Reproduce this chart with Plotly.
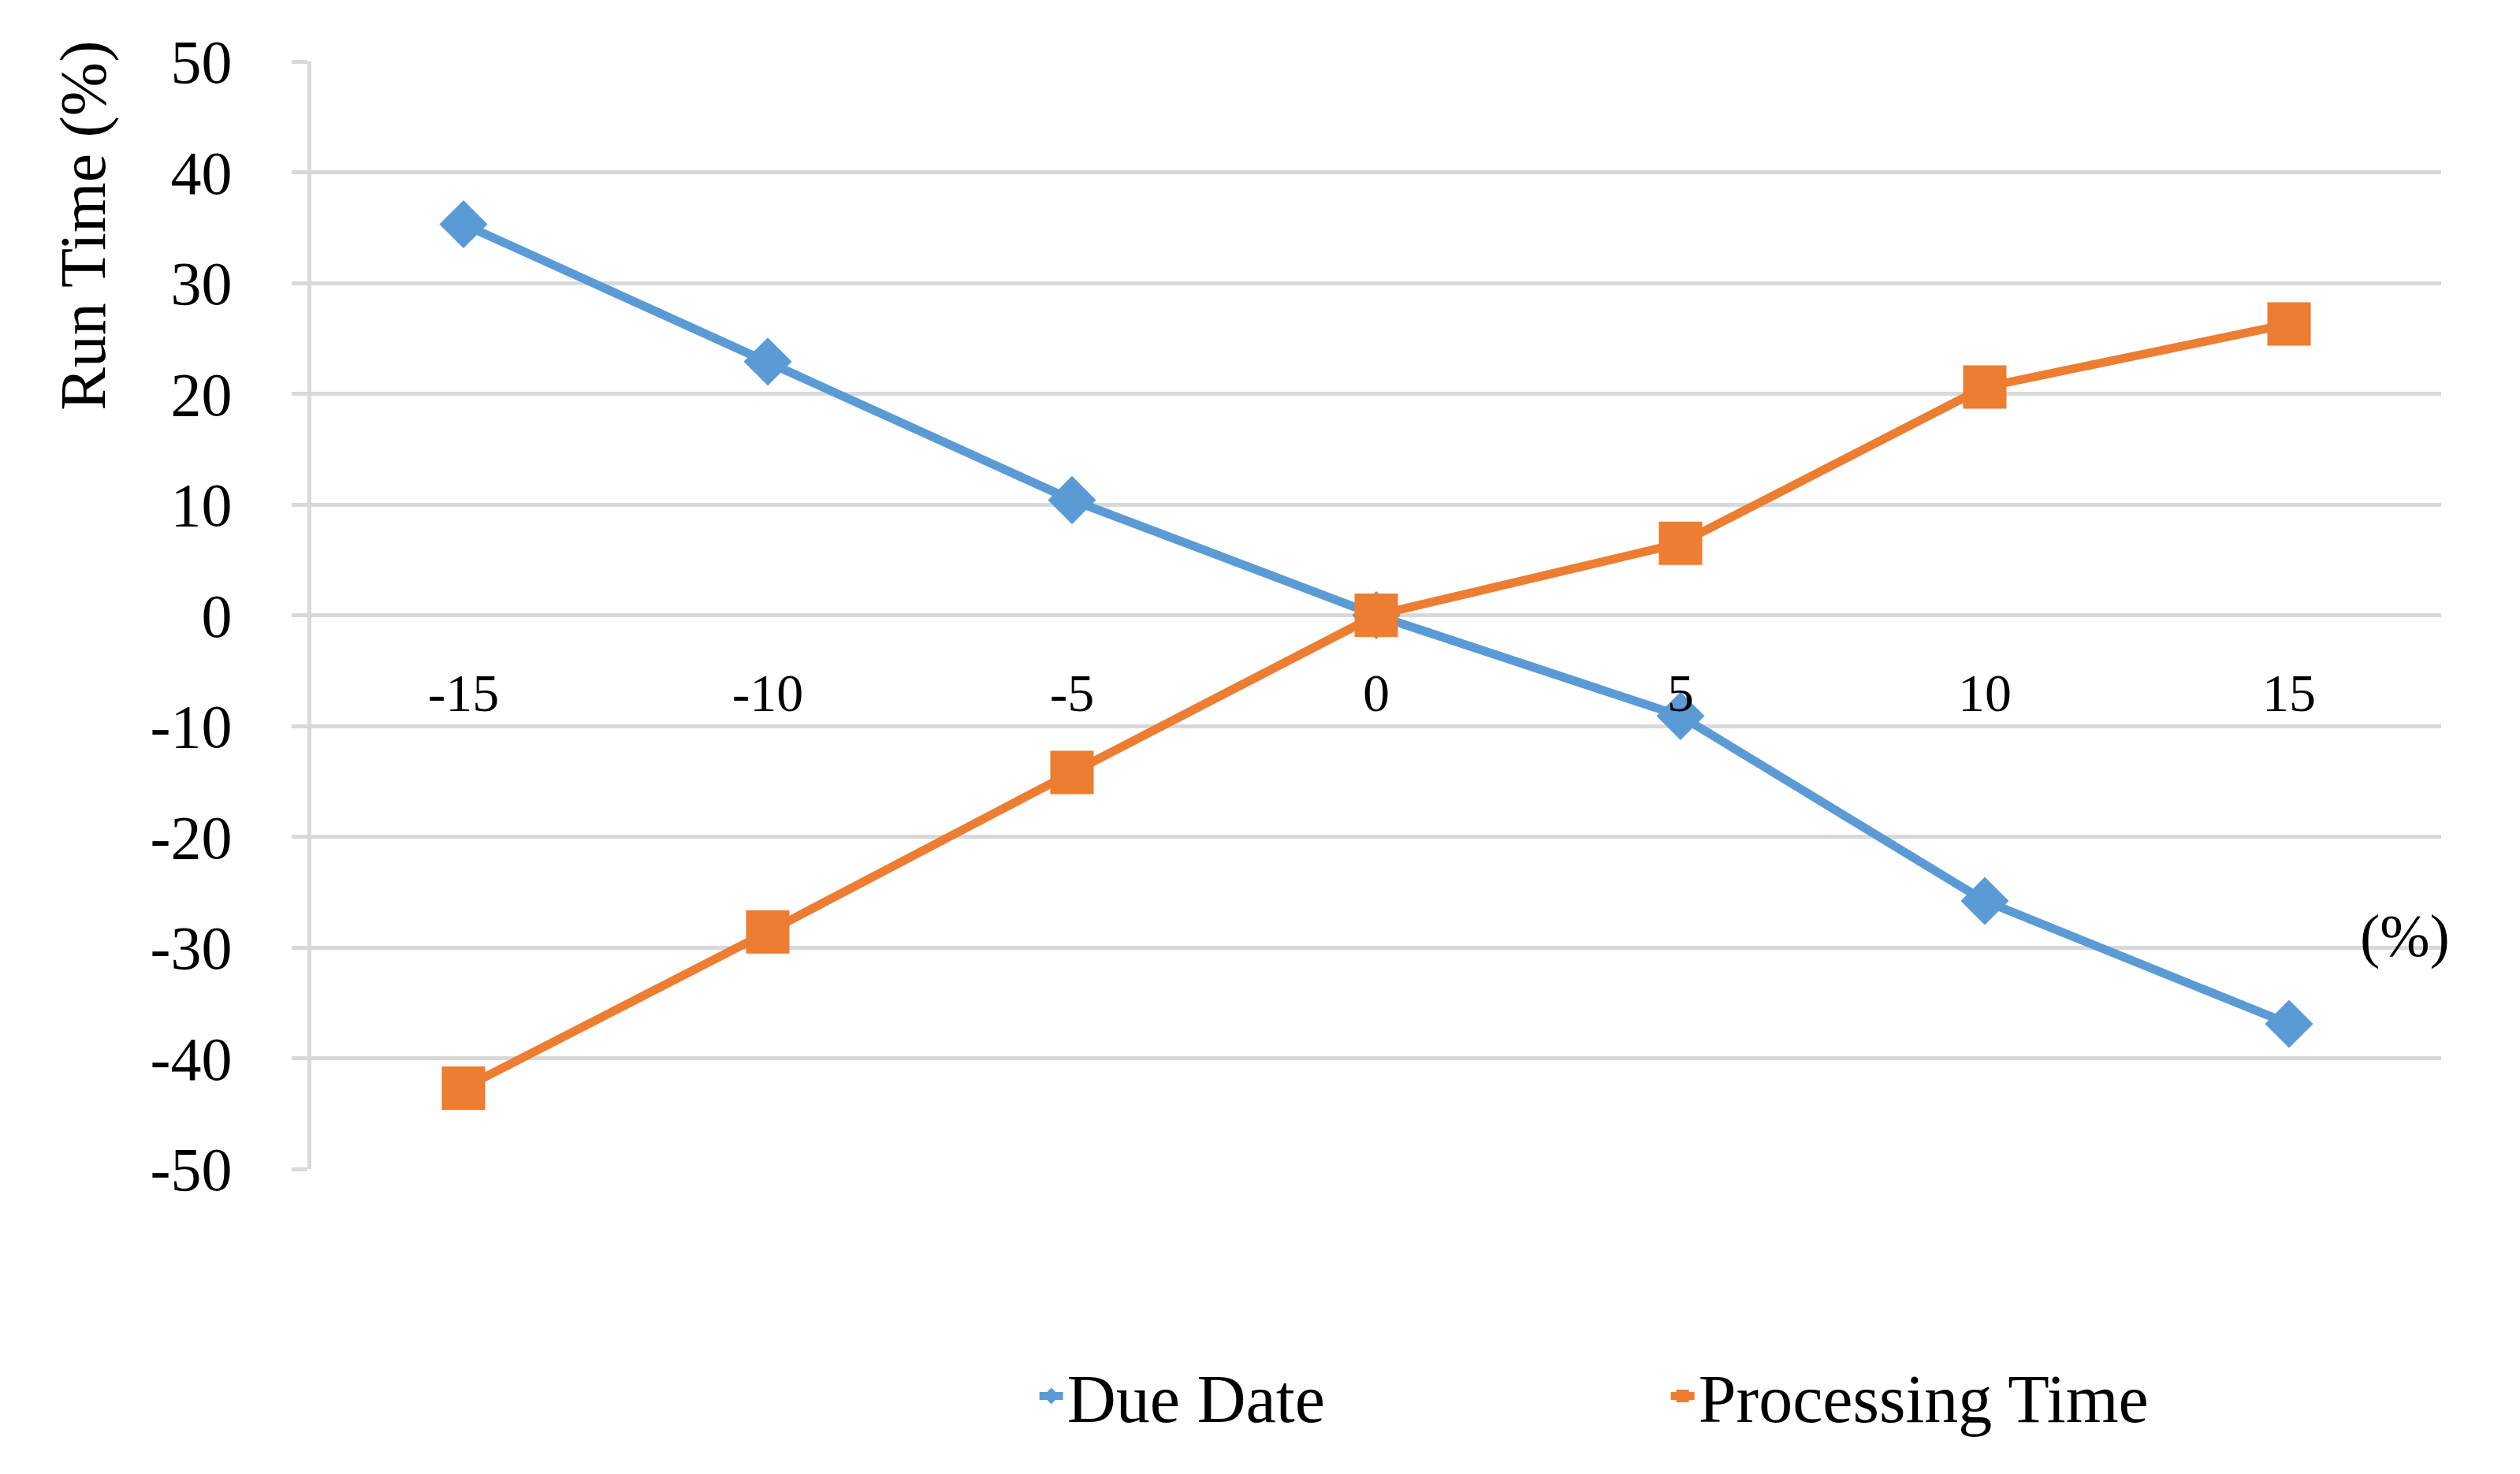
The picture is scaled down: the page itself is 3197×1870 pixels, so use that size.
import plotly.graph_objects as go

# Data
change_pct = [-15, -10, -5, 0, 5, 10, 15]
due_date = [35.3, 22.9, 10.4, 0.0, -9.1, -25.8, -36.9]
processing_time = [-42.7, -28.6, -14.2, 0.0, 6.5, 20.6, 26.3]
y_ticks = [50, 40, 30, 20, 10, 0, -10, -20, -30, -40, -50]

BLUE = "#5B9BD5"
ORANGE = "#ED7D31"
GRID = "#D9D9D9"
FONT = "Liberation Serif"

fig = go.Figure()
fig.add_trace(go.Scatter(
    x=change_pct, y=due_date, name="Due Date", mode="lines+markers",
    line=dict(color=BLUE, width=11),
    marker=dict(symbol="diamond", size=47, color=BLUE),
))
fig.add_trace(go.Scatter(
    x=change_pct, y=processing_time, name="Processing Time", mode="lines+markers",
    line=dict(color=ORANGE, width=11),
    marker=dict(symbol="square", size=55, color=ORANGE),
))

fig.update_layout(
    width=3197, height=1870,
    paper_bgcolor="white", plot_bgcolor="white",
    margin=dict(l=387, r=108, t=70, b=395),
    font=dict(family=FONT, color="black"),
    showlegend=True,
    legend=dict(
        orientation="h", x=0.34, xanchor="left", y=-0.205, yanchor="middle",
        font=dict(family=FONT, size=86, color="black"),
        entrywidth=756, entrywidthmode="pixels",
        itemwidth=30,
    ),
    xaxis=dict(
        range=[-17.5, 17.5],
        tickvals=change_pct,
        ticktext=[str(v) for v in change_pct],
        showgrid=False, zeroline=False, showline=False,
        ticks="", anchor="free", position=0.5,
        ticklabelstandoff=52,
        tickfont=dict(family=FONT, size=68, color="black"),
    ),
    yaxis=dict(
        range=[-50, 50],
        tickvals=y_ticks,
        ticktext=[str(v) for v in y_ticks],
        showgrid=True, gridcolor=GRID, gridwidth=5,
        zeroline=False,
        showline=True, linecolor=GRID, linewidth=5,
        ticks="outside", ticklen=20, tickcolor=GRID, tickwidth=5,
        ticklabelstandoff=60,
        tickfont=dict(family=FONT, size=78, color="black"),
    ),
)

fig.add_annotation(
    text="Run Time (%)", textangle=-90, showarrow=False,
    xref="paper", yref="paper", x=-0.107, y=0.852,
    xanchor="center", yanchor="middle",
    font=dict(family=FONT, size=82, color="black"),
)
fig.add_annotation(
    text="(%)", showarrow=False,
    xref="paper", yref="paper", x=0.983, y=0.21,
    xanchor="center", yanchor="middle",
    font=dict(family=FONT, size=76, color="black"),
)

fig.write_html("out.html")
